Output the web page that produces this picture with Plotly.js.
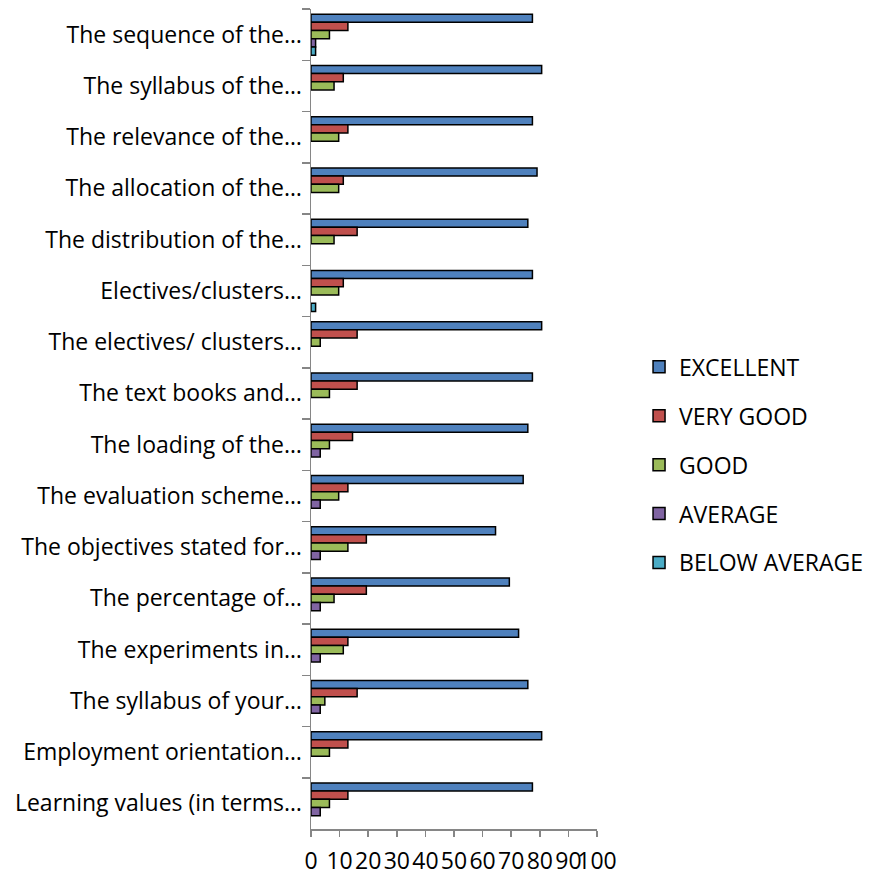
<!DOCTYPE html>
<html>
<head>
<meta charset="utf-8">
<script src="https://cdn.plot.ly/plotly-3.0.1.min.js"></script>
<style>html,body{margin:0;padding:0;background:#fff;}#chart{width:873px;height:875px;}</style>
</head>
<body>
<div id="chart"></div>
<script>
// Categories, top to bottom as shown
const categories = [
  "The sequence of the…",
  "The syllabus of the…",
  "The relevance of the…",
  "The allocation of the…",
  "The distribution of the…",
  "Electives/clusters…",
  "The electives/ clusters…",
  "The text books and…",
  "The loading of the…",
  "The evaluation scheme…",
  "The objectives stated for…",
  "The percentage of…",
  "The experiments in…",
  "The syllabus of your…",
  "Employment orientation…",
  "Learning values (in terms…"
];
const seriesNames = ["EXCELLENT", "VERY GOOD", "GOOD", "AVERAGE", "BELOW AVERAGE"];
const excellent    = [77.42, 80.65, 77.42, 79.03, 75.81, 77.42, 80.65, 77.42, 75.81, 74.19, 64.52, 69.35, 72.58, 75.81, 80.65, 77.42];
const veryGood     = [12.90, 11.29, 12.90, 11.29, 16.13, 11.29, 16.13, 16.13, 14.52, 12.90, 19.35, 19.35, 12.90, 16.13, 12.90, 12.90];
const good         = [6.45, 8.06, 9.68, 9.68, 8.06, 9.68, 3.23, 6.45, 6.45, 9.68, 12.90, 8.06, 11.29, 4.84, 6.45, 6.45];
const average      = [1.61, 0, 0, 0, 0, 0, 0, 0, 3.23, 3.23, 3.23, 3.23, 3.23, 3.23, 0, 3.23];
const belowAverage = [1.61, 0, 0, 0, 0, 1.61, 0, 0, 0, 0, 0, 0, 0, 0, 0, 0];
const xTicks = [0, 10, 20, 30, 40, 50, 60, 70, 80, 90, 100];

const colors = ["#4F81BD", "#C0504D", "#9BBB59", "#8064A2", "#4BACC6"];
const allSeries = [excellent, veryGood, good, average, belowAverage];

const traces = allSeries.map((vals, i) => ({
  type: "bar",
  orientation: "h",
  name: seriesNames[i],
  y: categories,
  x: vals.map(v => v === 0 ? null : v),
  legendgroup: "g" + i,
  marker: {color: colors[i], line: {color: "#000000", width: 1.5}},
  hoverinfo: "x+name"
}));

const font = "'Open Sans', sans-serif";

const layout = {
  width: 873,
  height: 875,
  margin: {l: 311, r: 276, t: 9, b: 46, autoexpand: false},
  paper_bgcolor: "#ffffff",
  plot_bgcolor: "#ffffff",
  barmode: "group",
  bargap: 0.2,
  bargroupgap: 0,
  font: {family: font, size: 23, color: "#000000"},
  showlegend: true,
  legend: {
    x: 1.147, y: 0.444, xanchor: "left", yanchor: "middle",
    font: {family: font, size: 23, color: "#000000"},
    traceorder: "grouped",
    tracegroupgap: 16,
    itemwidth: 30
  },
  xaxis: {
    range: [0, 100],
    tickvals: xTicks,
    ticktext: xTicks.map(String),
    tickangle: 0,
    automargin: false,
    ticks: "outside",
    ticklen: 6,
    tickcolor: "#868686",
    tickwidth: 1.5,
    ticklabelstandoff: 5,
    showgrid: false,
    zeroline: false,
    showline: true,
    linecolor: "#868686",
    linewidth: 1.5,
    tickfont: {family: font, size: 23, color: "#000000"},
    fixedrange: true
  },
  yaxis: {
    type: "category",
    autorange: "reversed",
    automargin: false,
    ticks: "outside",
    tickson: "boundaries",
    ticklen: 8,
    tickcolor: "#868686",
    tickwidth: 1.5,
    ticklabelstandoff: 3,
    showgrid: false,
    zeroline: false,
    showline: true,
    linecolor: "#868686",
    linewidth: 1.5,
    tickfont: {family: font, size: 23, color: "#000000"},
    fixedrange: true
  }
};

Plotly.newPlot("chart", traces, layout, {displayModeBar: false, staticPlot: true});
</script>
</body>
</html>
